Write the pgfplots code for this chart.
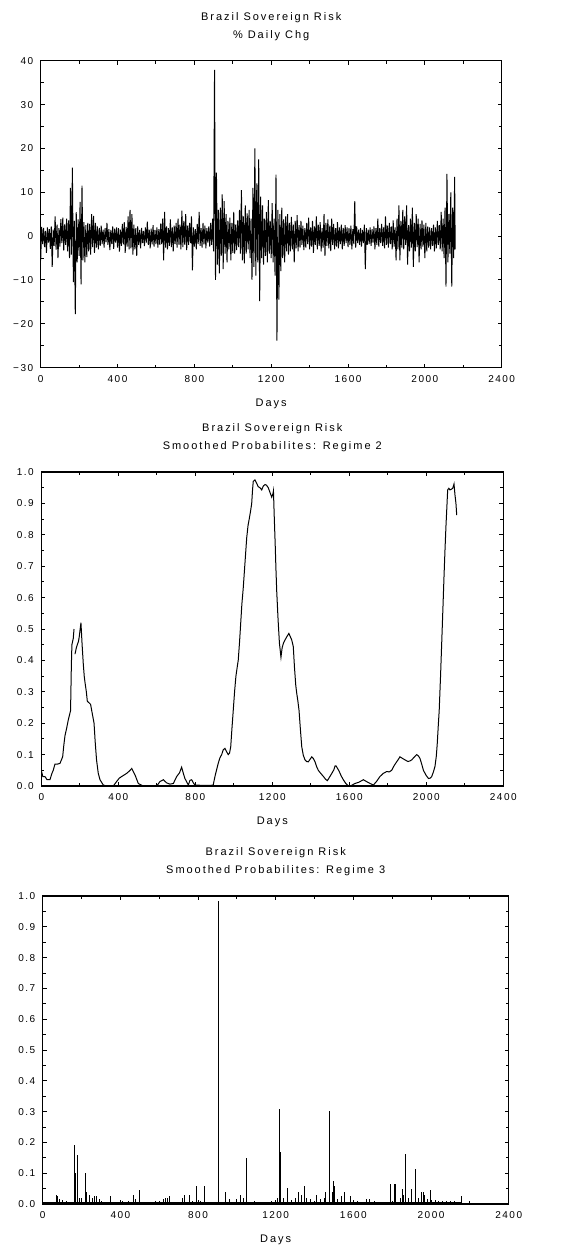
\documentclass[border=0pt]{standalone}
\usepackage{pgfplots}
\pgfplotsset{compat=1.18}
\usepackage{fontspec}
\newfontfamily\chartfont[LetterSpace=15]{Liberation Sans}
\newfontfamily\titlefontfam[LetterSpace=18]{Liberation Sans}

\pgfplotsset{
 brz/.style={
  scale only axis,
  anchor=north west,
  axis line style={line width=1.5pt},
  tick align=inside,
  tick pos=both,
  major tick length=4pt, minor tick length=3pt,
  every tick/.style={black, line width=1pt},
  xmin=0, xmax=2400, xtick={0,400,...,2400}, minor x tick num=1,
  minor y tick num=1,
  /pgf/number format/assume math mode=true,
  xticklabels={0,400,800,1200,1600,2000,2400},
  tick label style={font=\chartfont\fontsize{10}{12}\selectfont},
  xticklabel style={yshift=-4pt},
  yticklabel style={xshift=-4pt},
  title style={font=\titlefontfam\fontsize{11}{18}\selectfont, align=center, at={(axis description cs:0.5,1)}, anchor=south, inner sep=0pt, yshift=14pt},
  xlabel={Days},
  xlabel style={font=\titlefontfam\fontsize{11}{13}\selectfont, at={(axis description cs:0.5,0)}, anchor=center, yshift=-36pt},
 },
 probaxis/.style={
  ymin=0, ymax=1, ytick={0,0.1,...,1.0},
  yticklabels={0.0,0.1,0.2,0.3,0.4,0.5,0.6,0.7,0.8,0.9,1.0},
 }
}

\begin{document}
\begin{tikzpicture}
\useasboundingbox (0,0) rectangle (568pt,-1245pt);

% ---------- Panel 1 ----------
\begin{axis}[brz, at={(40.7pt,-60.7pt)}, width=461pt, height=307pt,
  ymin=-30, ymax=40, ytick={-30,-20,...,40},
  yticklabels={−30,−20,−10,0,10,20,30,40},
  title={Brazil Sovereign Risk\\\% Daily Chg}]
\addplot[black, line width=0.95pt, line join=miter, miter limit=2] coordinates {
(0,-5.5)(5,2.1)(10,-1.8)(15,1.9)(20,-2.5)(25,1.2)(30,-3.8)(35,2.0)(40,-1.5)(45,1.6)
(50,-2.9)(55,2.2)(60,-7.0)(65,1.5)(70,-2.2)(75,4.5)(80,-3.1)(85,2.6)(90,-5.0)(95,1.8)
(100,-2.4)(105,3.9)(110,-1.6)(115,4.2)(120,-3.3)(125,2.7)(130,-2.0)(135,4.0)(140,-3.5)(145,3.6)
(150,-5.0)(155,11.0)(160,-4.2)(165,15.6)(170,-10.5)(175,3.5)(180,-17.8)(185,5.5)(190,-6.0)(195,3.8)
(200,-4.5)(205,7.8)(210,-11.0)(215,11.5)(220,-5.5)(225,3.2)(230,-6.0)(235,2.5)(240,-4.8)(245,3.0)
(250,-3.5)(255,2.8)(260,-4.2)(265,5.0)(270,-2.5)(275,4.6)(280,-3.8)(285,3.0)(290,-2.6)(295,2.2)
(300,-3.0)(305,1.9)(310,-2.2)(315,2.4)(320,-1.8)(325,1.5)(330,-2.6)(335,1.8)(340,-1.4)(345,3.0)
(350,-2.0)(355,1.6)(360,-3.2)(365,1.4)(370,-1.8)(375,2.2)(380,-2.9)(385,1.7)(390,-1.5)(395,2.0)
(400,-2.6)(405,1.8)(410,-3.5)(415,1.5)(420,-2.2)(425,2.8)(430,-1.9)(435,3.2)(440,-3.8)(445,2.1)
(450,-2.4)(455,4.5)(460,-3.0)(465,6.0)(470,-2.8)(475,5.0)(480,-4.2)(485,2.6)(490,-3.0)(495,1.8)
(500,-4.5)(505,2.2)(510,-2.0)(515,1.4)(520,-2.8)(525,1.9)(530,-1.6)(535,1.2)(540,-2.3)(545,2.0)
(550,-1.5)(555,3.3)(560,-2.0)(565,1.5)(570,-2.8)(575,1.7)(580,-1.9)(585,2.5)(590,-2.4)(595,1.4)
(600,-1.8)(605,2.0)(610,-2.6)(615,1.6)(620,-2.0)(625,2.9)(630,-1.8)(635,4.0)(640,-5.5)(645,5.5)
(650,-2.6)(655,2.2)(660,-3.0)(665,1.8)(670,-2.2)(675,3.8)(680,-2.5)(685,2.0)(690,-3.5)(695,2.4)
(700,-1.8)(705,3.0)(710,-2.6)(715,4.0)(720,-2.0)(725,2.6)(730,-3.0)(735,5.8)(740,-2.5)(745,3.5)
(750,-2.0)(755,5.0)(760,-3.2)(765,2.4)(770,-2.0)(775,3.0)(780,-1.6)(785,4.5)(790,-7.8)(795,2.0)
(800,-2.4)(805,1.6)(810,-3.0)(815,2.8)(820,-1.8)(825,5.5)(830,-2.2)(835,1.8)(840,-2.6)(845,3.0)
(850,-1.9)(855,2.4)(860,-2.8)(865,1.8)(870,-1.5)(875,2.2)(880,-2.4)(885,3.0)(890,-2.0)(895,4.0)
(900,-3.5)(905,37.9)(910,-10.0)(915,14.5)(920,-6.5)(925,6.0)(930,-8.5)(935,6.5)(940,-4.5)(945,9.5)
(950,-7.5)(955,8.0)(960,-4.0)(965,5.0)(970,-6.0)(975,3.5)(980,-3.0)(985,4.2)(990,-5.5)(995,3.0)
(1000,-3.8)(1005,5.5)(1010,-4.0)(1015,2.6)(1020,-3.2)(1025,3.6)(1030,-2.5)(1035,6.0)(1040,-4.0)(1045,10.5)
(1050,-5.5)(1055,4.5)(1060,-6.2)(1065,7.0)(1070,-4.0)(1075,5.2)(1080,-3.0)(1085,6.0)(1090,-5.0)(1095,4.0)
(1100,-10.0)(1105,11.0)(1110,-7.0)(1115,20.0)(1120,-9.0)(1125,12.0)(1130,-6.0)(1135,17.5)(1140,-14.8)(1145,9.0)
(1150,-5.0)(1155,7.0)(1160,-6.5)(1165,4.0)(1170,-4.5)(1175,5.5)(1180,-6.0)(1185,8.2)(1190,-4.0)(1195,3.5)
(1200,-5.0)(1205,7.5)(1210,-6.0)(1215,4.0)(1220,-9.0)(1225,14.0)(1230,-23.8)(1235,6.0)(1240,-14.5)(1245,5.0)
(1250,-8.0)(1255,6.5)(1260,-5.0)(1265,3.8)(1270,-6.0)(1275,4.5)(1280,-3.5)(1285,5.0)(1290,-4.2)(1295,3.0)
(1300,-3.5)(1305,4.4)(1310,-3.0)(1315,2.6)(1320,-6.0)(1325,3.5)(1330,-2.8)(1335,4.8)(1340,-3.5)(1345,2.5)
(1350,-2.6)(1355,3.5)(1360,-2.0)(1365,2.4)(1370,-3.2)(1375,1.8)(1380,-2.6)(1385,3.0)(1390,-1.8)(1395,4.2)
(1400,-3.0)(1405,2.0)(1410,-2.4)(1415,3.5)(1420,-3.8)(1425,2.2)(1430,-2.0)(1435,4.5)(1440,-3.0)(1445,2.6)
(1450,-2.2)(1455,3.2)(1460,-3.5)(1465,1.8)(1470,-2.6)(1475,5.0)(1480,-4.5)(1485,3.0)(1490,-2.2)(1495,3.8)
(1500,-2.8)(1505,2.4)(1510,-3.4)(1515,4.0)(1520,-2.0)(1525,2.8)(1530,-3.0)(1535,1.8)(1540,-2.4)(1545,3.2)
(1550,-2.8)(1555,2.0)(1560,-1.8)(1565,2.6)(1570,-3.0)(1575,1.9)(1580,-2.2)(1585,2.5)(1590,-1.6)(1595,2.0)
(1600,-2.5)(1605,1.8)(1610,-2.0)(1615,2.4)(1620,-3.0)(1625,1.6)(1630,-1.8)(1635,8.0)(1640,-2.6)(1645,2.2)
(1650,-1.6)(1655,1.5)(1660,-2.0)(1665,1.8)(1670,-2.4)(1675,1.4)(1680,-1.6)(1685,2.6)(1690,-7.5)(1695,1.8)
(1700,-2.0)(1705,1.5)(1710,-1.8)(1715,2.0)(1720,-2.2)(1725,1.6)(1730,-1.5)(1735,2.2)(1740,-3.0)(1745,1.8)
(1750,-2.0)(1755,4.0)(1760,-2.4)(1765,1.8)(1770,-1.6)(1775,2.8)(1780,-2.2)(1785,2.0)(1790,-2.8)(1795,4.5)
(1800,-2.0)(1805,2.4)(1810,-2.6)(1815,3.0)(1820,-1.8)(1825,2.2)(1830,-3.0)(1835,3.6)(1840,-2.4)(1845,2.0)
(1850,-5.5)(1855,4.0)(1860,-3.0)(1865,7.0)(1870,-5.5)(1875,3.5)(1880,-2.6)(1885,6.0)(1890,-3.0)(1895,4.5)
(1900,-2.0)(1905,7.0)(1910,-6.5)(1915,2.5)(1920,-3.5)(1925,4.0)(1930,-2.6)(1935,6.5)(1940,-7.0)(1945,3.0)
(1950,-3.5)(1955,5.0)(1960,-2.5)(1965,4.0)(1970,-6.0)(1975,2.8)(1980,-3.0)(1985,3.6)(1990,-2.4)(1995,2.6)
(2000,-5.0)(2005,3.0)(2010,-3.5)(2015,2.2)(2020,-2.6)(2025,2.0)(2030,-3.0)(2035,1.8)(2040,-2.2)(2045,2.6)
(2050,-3.5)(2055,2.0)(2060,-2.8)(2065,3.5)(2070,-2.0)(2075,2.5)(2080,-3.0)(2085,5.5)(2090,-3.5)(2095,4.0)
(2100,-5.0)(2105,6.5)(2110,-11.5)(2115,14.2)(2120,-6.0)(2125,5.0)(2130,-4.0)(2135,10.0)(2140,-11.5)(2145,6.5)
(2150,-5.0)(2155,13.5)(2158,-3.0)
};
\end{axis}

% ---------- Panel 2 ----------
\begin{axis}[brz, probaxis, at={(41.3pt,-472pt)}, width=462pt, height=314pt,
  unbounded coords=jump,
  title={Brazil Sovereign Risk\\Smoothed Probabilites: Regime 2}]
\addplot[black, line width=1pt] coordinates {
(0,0.05)(8,0.03)(19,0.03)(30,0.02)(45,0.02)(55,0.04)(62,0.05)(71,0.07)(85,0.07)(97,0.072)
(111,0.093)(117,0.13)(123,0.16)(132,0.185)(140,0.21)(148,0.23)(152,0.24)(156,0.38)(159,0.45)(166,0.47)(170,0.50)
(172,nan)
(175,0.42)(182,0.44)(187,0.45)(193,0.46)(197,0.475)(202,0.50)(206,0.52)(212,0.45)(218,0.39)(223,0.35)(227,0.33)
(234,0.30)(239,0.27)(248,0.265)(256,0.26)(265,0.23)(274,0.20)(280,0.14)(287,0.083)(296,0.04)(305,0.02)
(322,0.003)(340,0.0)(374,0.0)(391,0.014)(405,0.025)(417,0.03)(430,0.035)(443,0.04)(458,0.048)(470,0.056)
(487,0.035)(504,0.008)(530,0.0)(600,0.0)(616,0.014)(634,0.02)(651,0.01)(668,0.006)(686,0.008)(703,0.03)
(718,0.042)(729,0.06)(738,0.04)(746,0.024)(764,0.003)(772,0.018)(781,0.02)(790,0.01)(798,0.003)(840,0.002)
(880,0.002)(893,0.003)(902,0.03)(910,0.05)(919,0.072)(928,0.09)(937,0.10)(945,0.115)(954,0.12)(962,0.11)
(971,0.10)(978,0.105)(984,0.125)(990,0.18)(997,0.24)(1004,0.30)(1011,0.35)(1018,0.38)(1023,0.40)(1030,0.46)
(1036,0.52)(1042,0.58)(1049,0.63)(1058,0.71)(1067,0.79)(1074,0.83)(1080,0.85)(1087,0.875)(1093,0.90)(1097,0.94)
(1101,0.97)(1110,0.975)(1118,0.965)(1127,0.953)(1136,0.95)(1145,0.943)(1153,0.955)(1162,0.96)(1170,0.958)(1179,0.95)
(1188,0.935)(1197,0.92)(1203,0.93)(1206,0.94)(1210,0.86)(1215,0.77)(1219,0.69)(1223,0.62)(1230,0.53)(1237,0.455)
(1245,0.41)(1251,0.44)(1258,0.455)(1266,0.465)(1275,0.475)(1286,0.486)(1294,0.475)(1301,0.465)(1309,0.444)(1315,0.38)
(1322,0.32)(1327,0.295)(1333,0.27)(1339,0.24)(1346,0.18)(1353,0.125)(1361,0.098)(1370,0.083)(1378,0.078)(1387,0.077)
(1396,0.085)(1405,0.093)(1413,0.088)(1422,0.077)(1430,0.062)(1439,0.05)(1452,0.04)(1466,0.03)(1476,0.022)(1486,0.017)
(1497,0.028)(1509,0.04)(1520,0.052)(1526,0.064)(1531,0.064)(1540,0.055)(1548,0.046)(1558,0.032)(1569,0.02)(1582,0.008)
(1595,0.0)(1612,0.002)(1629,0.008)(1650,0.012)(1673,0.02)(1690,0.014)(1708,0.008)(1725,0.003)(1742,0.015)(1759,0.03)
(1776,0.04)(1794,0.046)(1808,0.045)(1820,0.05)(1833,0.065)(1846,0.077)(1855,0.085)(1863,0.093)(1876,0.088)(1890,0.083)
(1905,0.078)(1915,0.08)(1924,0.083)(1937,0.092)(1950,0.10)(1960,0.095)(1967,0.088)(1976,0.07)(1985,0.05)(1998,0.035)
(2011,0.024)(2020,0.025)(2028,0.03)(2037,0.045)(2045,0.062)(2052,0.095)(2057,0.136)(2062,0.19)(2067,0.24)(2074,0.35)
(2080,0.455)(2086,0.56)(2092,0.667)(2097,0.75)(2102,0.826)(2107,0.89)(2111,0.943)(2117,0.948)(2123,0.943)(2130,0.945)
(2137,0.948)(2144,0.962)(2149,0.927)(2154,0.90)(2158,0.863)
};
\end{axis}

% ---------- Panel 3 ----------
\begin{axis}[brz, probaxis, at={(42.7pt,-896pt)}, width=466pt, height=308pt,
  title={Brazil Sovereign Risk\\Smoothed Probabilites: Regime 3}]
\addplot[black, line width=1.4pt] coordinates {(0,0.003)(2158,0.003)};
\addplot[black, ycomb, line width=0.8pt] coordinates {
(72,0.03)(78,0.025)(85,0.015)(100,0.012)(120,0.01)(161,0.19)(168,0.10)(178,0.16)(190,0.02)(200,0.02)
(219,0.10)(225,0.04)(240,0.03)(255,0.02)(266,0.025)(278,0.025)(290,0.015)(300,0.01)(351,0.025)(380,0.008)
(410,0.01)(440,0.01)(466,0.03)(475,0.015)(500,0.045)(560,0.008)(580,0.01)(620,0.015)(630,0.02)(640,0.02)
(655,0.025)(690,0.008)(720,0.02)(732,0.03)(758,0.028)(770,0.01)(792,0.058)(810,0.01)(831,0.06)(850,0.008)
(903,0.984)(907,0.555)(939,0.04)(960,0.015)(1000,0.015)(1018,0.03)(1035,0.02)(1049,0.148)(1090,0.01)(1120,0.008)
(1180,0.01)(1210,0.02)(1221,0.31)(1226,0.168)(1240,0.02)(1258,0.052)(1280,0.012)(1300,0.02)(1315,0.04)(1330,0.03)
(1346,0.06)(1360,0.02)(1380,0.015)(1409,0.03)(1430,0.015)(1450,0.02)(1457,0.04)(1474,0.302)(1478,0.162)(1490,0.04)
(1495,0.075)(1500,0.06)(1520,0.015)(1540,0.025)(1555,0.04)(1584,0.025)(1620,0.01)(1666,0.015)(1680,0.015)(1710,0.01)
(1740,0.008)(1790,0.065)(1812,0.065)(1817,0.065)(1840,0.02)(1851,0.05)(1860,0.03)(1870,0.162)(1885,0.02)(1901,0.05)
(1918,0.114)(1935,0.02)(1949,0.04)(1960,0.04)(1966,0.03)(1980,0.015)(1997,0.045)(2020,0.012)(2040,0.01)(2060,0.01)
(2080,0.01)(2100,0.01)(2120,0.01)(2155,0.025)
};
\end{axis}
\end{tikzpicture}
\end{document}
